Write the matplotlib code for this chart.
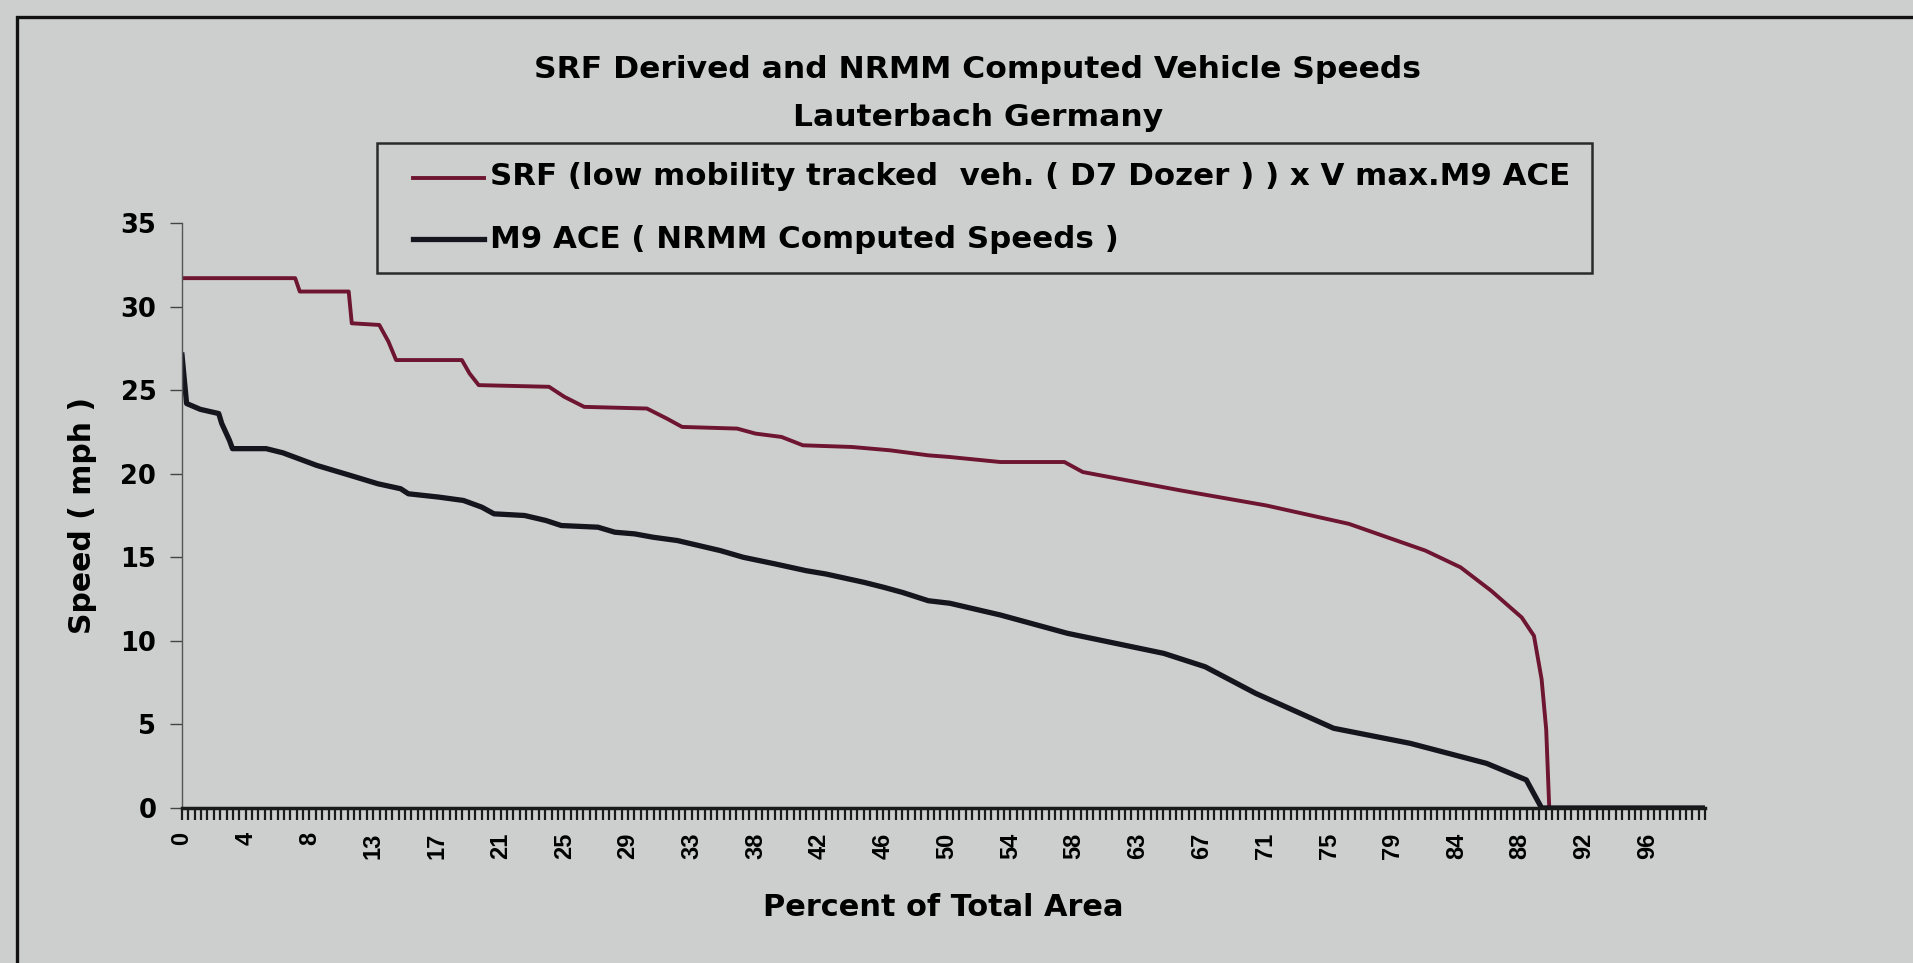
import numpy as np
import matplotlib.pyplot as plt
from matplotlib.patches import Rectangle
from matplotlib.lines import Line2D

# data (percent of total area -> speed, mph)
srf_pct = [0, 7.4, 7.7, 10.9, 11.1, 12.9, 13.5, 14.0, 18.3, 18.8, 19.4, 24.0, 25.0,
           26.3, 30.4, 31.7, 32.7, 36.3, 37.5, 39.2, 40.6, 43.8, 46.3, 48.8, 50.2,
           53.5, 57.7, 58.9, 65.3, 70.9, 76.3, 81.3, 83.6, 85.6, 87.6, 88.4, 88.9,
           89.2, 89.4, 99.6]
srf_speed = [31.7, 31.7, 30.9, 30.9, 29.0, 28.9, 27.9, 26.8, 26.8, 26.0, 25.3, 25.2, 24.6,
             24.0, 23.9, 23.3, 22.8, 22.7, 22.4, 22.2, 21.7, 21.6, 21.4, 21.1, 21.0,
             20.7, 20.7, 20.1, 19.0, 18.1, 17.0, 15.4, 14.4, 13.0, 11.4, 10.3, 7.7,
             4.7, 0.0, 0.0]

ace_pct = [0, 0.3, 1.2, 2.4, 2.6, 3.1, 3.3, 5.5, 6.6, 8.8, 11.0, 12.8, 14.3, 14.8,
           16.8, 18.4, 19.6, 20.4, 22.4, 23.8, 24.8, 27.2, 28.3, 29.6, 30.8, 32.4,
           33.8, 35.2, 36.7, 38.8, 40.8, 42.1, 43.1, 44.6, 45.9, 47.1, 48.8, 50.2,
           53.5, 57.9, 64.2, 66.9, 70.2, 75.3, 80.3, 85.3, 87.9, 88.9, 99.6]
ace_speed = [27.1, 24.2, 23.85, 23.6, 23.0, 22.0, 21.5, 21.5, 21.25, 20.5, 19.9, 19.4,
             19.1, 18.8, 18.6, 18.4, 18.0, 17.6, 17.5, 17.2, 16.9, 16.8, 16.5, 16.4,
             16.2, 16.0, 15.7, 15.4, 15.0, 14.6, 14.2, 14.0, 13.8, 13.5, 13.2, 12.9,
             12.4, 12.25, 11.55, 10.45, 9.25, 8.45, 6.86, 4.77, 3.87, 2.67, 1.68, 0.0,
             0.0]

n_categories = 240
tick_labels = ['0', '4', '8', '13', '17', '21', '25', '29', '33', '38', '42', '46',
               '50', '54', '58', '63', '67', '71', '75', '79', '84', '88', '92', '96']

srf_label = 'SRF (low mobility tracked  veh. ( D7 Dozer ) ) x V max.M9 ACE'
ace_label = 'M9 ACE ( NRMM Computed Speeds )'

plt.rcParams['font.family'] = ['DejaVu Sans']
plt.rcParams['font.weight'] = 'bold'

W, H = 1913, 963
bg = '#cdcfcf'
red = '#6d1531'
dark = '#15151d'

fig = plt.figure(figsize=(W / 100, H / 100), dpi=100)
fig.patch.set_facecolor(bg)

ax = fig.add_axes([182 / W, 1 - 808 / H, (1705 - 182) / W, (808 - 223) / H])
ax.set_facecolor(bg)

ax.plot(srf_pct, srf_speed, color=red, lw=2.8, solid_joinstyle='round')
ax.plot(ace_pct, ace_speed, color=dark, lw=3.8, solid_joinstyle='round')

step = 100 / n_categories
ax.set_xlim(0, (n_categories - 1) * step)
ax.set_ylim(0, 35)
ax.set_yticks(range(0, 36, 5))
ax.set_xticks(np.arange(0, n_categories, 10) * step)
ax.set_xticklabels(tick_labels, rotation=90, fontsize=17,
                   family=['Liberation Sans', 'DejaVu Sans'])
ax.set_xticks(np.arange(n_categories) * step, minor=True)

ax.tick_params(axis='x', which='both', direction='out', length=8.5, width=1.6,
               color='#1a1a1a', pad=9)
ax.tick_params(axis='y', direction='out', length=8.5, width=1.0, color='#444444',
               labelsize=18.5, pad=10)

for s in ['top', 'right']:
    ax.spines[s].set_visible(False)
ax.spines['left'].set_color('#555555')
ax.spines['left'].set_linewidth(1.0)
ax.spines['bottom'].set_color('#1a1a1a')
ax.spines['bottom'].set_linewidth(2.5)

xl = ax.set_xlabel('Percent of Total Area', fontsize=21.5, fontweight='bold')
ax.xaxis.set_label_coords(0.5, -(893 - 808) / 585)
ax.set_ylabel('Speed ( mph )', fontsize=21.5, fontweight='bold')
ax.yaxis.set_label_coords((97 - 182) / 1523, 0.5)

# titles
t1 = fig.text(978 / W, 1 - 78 / H, 'SRF Derived and NRMM Computed Vehicle Speeds',
              ha='center', va='baseline', fontsize=22.5)
t2 = fig.text(978 / W, 1 - 126 / H, 'Lauterbach Germany',
              ha='center', va='baseline', fontsize=22.5)

# legend box
fig.add_artist(Rectangle((377 / W, 1 - 273 / H), (1592 - 377) / W, 130 / H,
                         transform=fig.transFigure, facecolor=bg,
                         edgecolor='#2a2a2a', lw=1.8))
legend_texts = []
for lab, col, lw, ly, by in [(srf_label, red, 2.8, 178, 185),
                             (ace_label, dark, 3.8, 239, 248)]:
    fig.add_artist(Line2D([413 / W, 484 / W], [1 - ly / H, 1 - ly / H],
                          transform=fig.transFigure, color=col, lw=lw))
    legend_texts.append(fig.text(490 / W, 1 - by / H, lab, ha='left',
                                 va='baseline', fontsize=22))

# size text to the widths measured on the original
fig.canvas.draw()
r = fig.canvas.get_renderer()
k = 1077 / legend_texts[0].get_window_extent(r).width
for t in legend_texts:
    t.set_fontsize(t.get_fontsize() * k)
k = 888 / t1.get_window_extent(r).width
for t in (t1, t2):
    t.set_fontsize(t.get_fontsize() * k)
xl.set_fontsize(xl.get_fontsize() * 361 / xl.get_window_extent(r).width)

# outer chart frame
fig.add_artist(Rectangle((17 / W, -0.5), 2.0, 1.5 - 17 / H,
                         transform=fig.transFigure, fill=False,
                         edgecolor='#111111', lw=2.4))

fig.savefig('out.png', dpi=100, facecolor=bg)
